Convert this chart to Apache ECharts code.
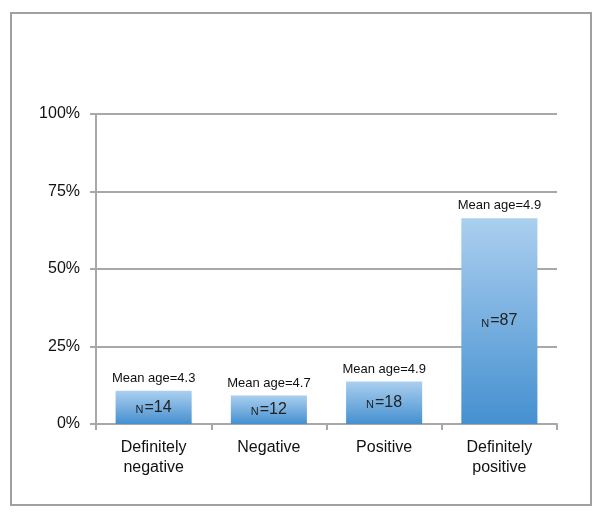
<!DOCTYPE html>
<html>
<head>
<meta charset="utf-8">
<script src="https://cdn.jsdelivr.net/npm/echarts@6/dist/echarts.min.js"></script>
<style>
html,body{margin:0;padding:0;background:#fff;}
#c{width:602px;height:518px;}
</style>
</head>
<body>
<div id="c"></div>
<script>
const categories = ['Definitely\nnegative', 'Negative', 'Positive', 'Definitely\npositive'];
const percentValues = [10.7, 9.2, 13.7, 66.4];
const counts = [14, 12, 18, 87];
const meanAges = ['4.3', '4.7', '4.9', '4.9'];
const yTicks = [0, 25, 50, 75, 100];

const FONT = '"Liberation Sans", Arial, Helvetica, sans-serif';
const chart = echarts.init(document.getElementById('c'), null, {renderer: 'canvas'});

const barColor = new echarts.graphic.LinearGradient(0, 0, 0, 1, [
  {offset: 0, color: '#abcfef'},
  {offset: 1, color: '#4590d0'}
]);

chart.setOption({
  animation: false,
  backgroundColor: '#fff',
  textStyle: {fontFamily: FONT},
  graphic: [{
    type: 'rect',
    shape: {x: 11, y: 13, width: 580, height: 492},
    style: {fill: 'none', stroke: '#a0a0a0', lineWidth: 2},
    z: 100
  }],
  grid: {left: 96, right: 45, top: 114, bottom: 94},
  xAxis: {
    type: 'category',
    data: categories,
    axisLine: {lineStyle: {color: '#a8a8a8', width: 2}},
    axisTick: {show: true, length: 6, lineStyle: {color: '#a8a8a8', width: 2}},
    axisLabel: {
      color: '#111', fontSize: 16, lineHeight: 20, margin: 14, fontFamily: FONT
    }
  },
  yAxis: {
    type: 'value',
    min: yTicks[0],
    max: yTicks[yTicks.length - 1],
    interval: 25,
    axisLine: {show: true, lineStyle: {color: '#a8a8a8', width: 2}},
    axisTick: {show: true, length: 6, lineStyle: {color: '#a8a8a8', width: 2}},
    splitLine: {lineStyle: {color: '#a8a8a8', width: 2}},
    axisLabel: {
      color: '#111', fontSize: 16, margin: 16, fontFamily: FONT,
      formatter: v => v + '%'
    }
  },
  series: [
    {
      type: 'bar',
      data: percentValues,
      barWidth: '66%',
      itemStyle: {color: barColor},
      label: {
        show: true,
        position: 'inside',
        formatter: p => '{a|N}{b|=' + counts[p.dataIndex] + '}',
        rich: {
          a: {fontSize: 11, color: '#222', fontFamily: FONT, verticalAlign: 'bottom', padding: [0, 1, 0, 0]},
          b: {fontSize: 16, color: '#222', fontFamily: FONT}
        }
      },
      z: 2
    },
    {
      type: 'bar',
      data: percentValues,
      barWidth: '66%',
      barGap: '-100%',
      itemStyle: {color: 'rgba(0,0,0,0)'},
      label: {
        show: true,
        position: 'top',
        distance: 6,
        color: '#111',
        fontSize: 13,
        fontFamily: FONT,
        formatter: p => 'Mean age=' + meanAges[p.dataIndex]
      },
      silent: true,
      z: 3
    }
  ]
});
</script>
</body>
</html>
